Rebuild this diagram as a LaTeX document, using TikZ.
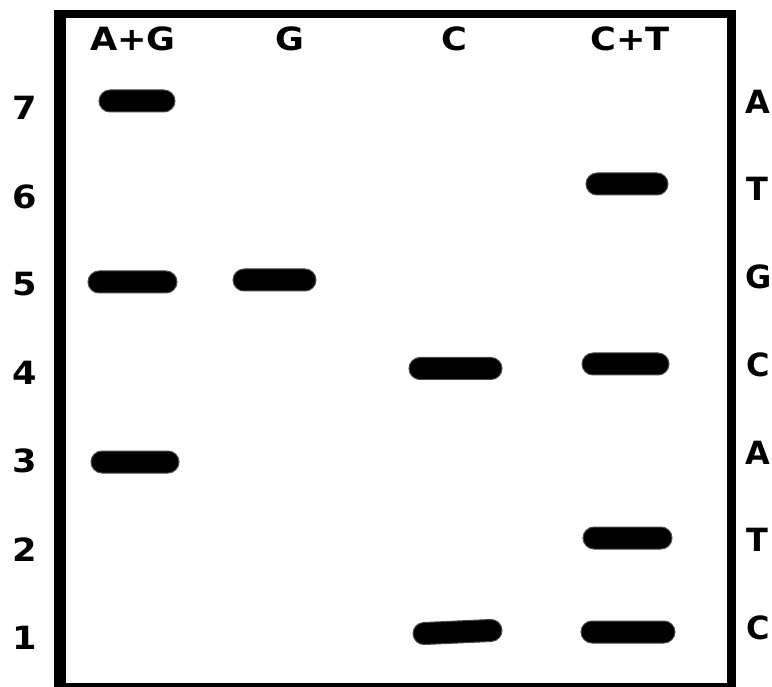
\documentclass[tikz,border=0pt]{standalone}
\usepackage{fontspec}
\newfontfamily\labfont{DejaVu Sans}
\usetikzlibrary{shapes.misc}
\newcommand\widelab[1]{\scalebox{1.1}[1]{#1}}
\tikzset{
  lab/.style={font=\labfont\bfseries\fontsize{32}{36}\selectfont, inner sep=0pt, text=black},
  band/.style={rounded rectangle, fill=black, draw=black!70, line width=1pt, inner sep=0pt, minimum height=22pt},
  frameline/.style={draw=black, line cap=butt}
}
\begin{document}
\begin{tikzpicture}[x=1pt, y=-1pt]
\useasboundingbox (0,0) rectangle (772,687);
\clip (0,0) rectangle (772,687);
\fill[white] (0,0) rectangle (772,687);
% frame
\coordinate (lt) at (59.5,10);
\coordinate (lb) at (59.5,690);
\coordinate (tl) at (53.5,14);
\coordinate (tr) at (736,14);
\coordinate (rt) at (731.5,10);
\coordinate (rb) at (731.5,690);
\coordinate (bl) at (53.5,687);
\coordinate (br) at (736,687);
\draw[frameline, line width=12pt] (lb) -- (lt);
\draw[frameline, line width=8pt] (tl) -- (tr);
\draw[frameline, line width=9pt] (rt) -- (rb);
\draw[frameline, line width=8pt] (bl) -- (br);
% lane headings
\node[lab] (hAG) at (133,39) {\widelab{A+G}};
\node[lab] (hG)  at (290,39) {\widelab{G}};
\node[lab] (hC)  at (454,39) {\widelab{C}};
\node[lab] (hCT) at (630,39) {\widelab{C+T}};
% row numbers
\node[lab] (n7) at (25,108) {\widelab{7}};
\node[lab] (n6) at (25,196.5) {\widelab{6}};
\node[lab] (n5) at (25,284.5) {\widelab{5}};
\node[lab] (n4) at (25,373) {\widelab{4}};
\node[lab] (n3) at (25,461) {\widelab{3}};
\node[lab] (n2) at (25,549.5) {\widelab{2}};
\node[lab] (n1) at (25,637.5) {\widelab{1}};
% sequence letters
\node[lab, anchor=west] (s7) at (745,102) {A};
\node[lab, anchor=west] (s6) at (746,189) {T};
\node[lab, anchor=west] (s5) at (745,277) {G};
\node[lab, anchor=west] (s4) at (746,365) {C};
\node[lab, anchor=west] (s3) at (745,453) {A};
\node[lab, anchor=west] (s2) at (746,540) {T};
\node[lab, anchor=west] (s1) at (746,628) {C};
% bands
\node[band, minimum width=76pt] (ag7) at (137,101) {};
\node[band, minimum width=89pt] (ag5) at (132.5,282) {};
\node[band, minimum width=88pt] (ag3) at (135,462) {};
\node[band, minimum width=83pt] (g5)  at (274.5,280) {};
\node[band, minimum width=93pt] (c4)  at (455.5,368.5) {};
\node[band, minimum width=89pt, rotate=2.6] (c1) at (457.5,632) {};
\node[band, minimum width=82pt] (ct6) at (627,184) {};
\node[band, minimum width=87pt] (ct4) at (625.5,364) {};
\node[band, minimum width=89pt] (ct2) at (627.5,538) {};
\node[band, minimum width=94pt] (ct1) at (628,632) {};
\end{tikzpicture}
\end{document}
